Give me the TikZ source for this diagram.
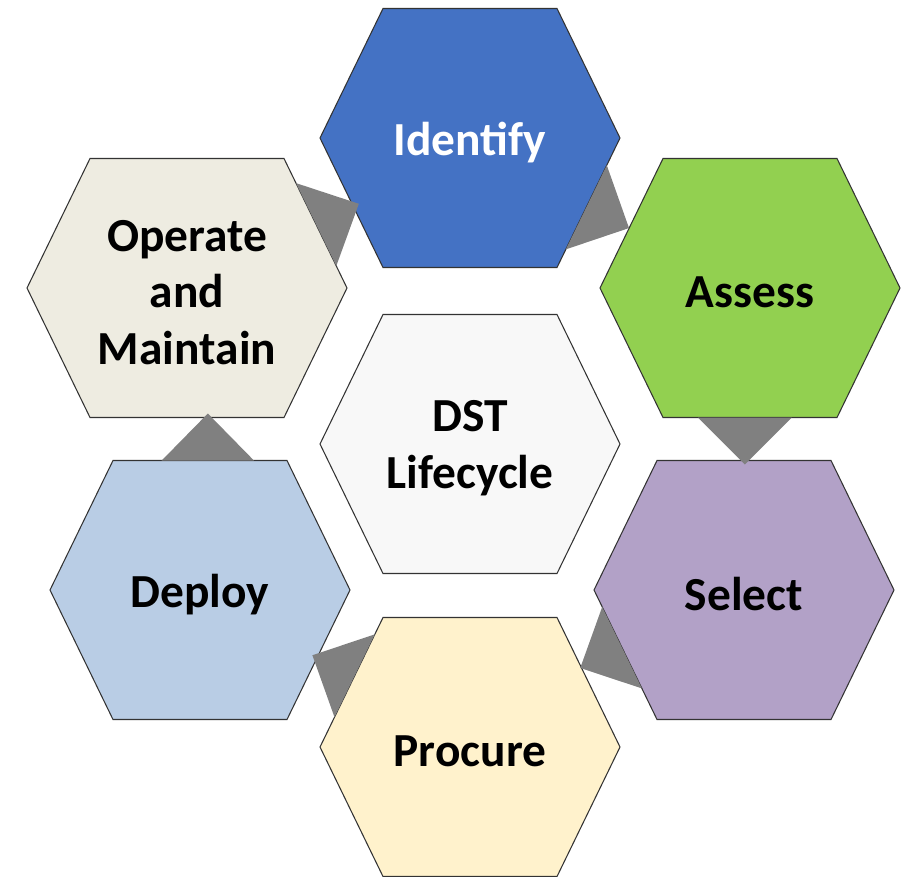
\documentclass[tikz,border=0pt]{standalone}
\usepackage{fontspec}
\setmainfont{Carlito}
\usetikzlibrary{calc}

\definecolor{identblue}{HTML}{4472C4}
\definecolor{assessgreen}{HTML}{92D050}
\definecolor{selectlilac}{HTML}{B2A1C7}
\definecolor{procurecream}{HTML}{FFF2CC}
\definecolor{deployblue}{HTML}{B9CDE5}
\definecolor{operatebeige}{HTML}{EEECE1}
\definecolor{dstgrey}{HTML}{F8F8F8}
\definecolor{trigrey}{HTML}{808080}

\tikzset{
  hexline/.style={draw=black!80, line width=0.6pt},
  celltext/.style={font=\fontsize{27}{32.3}\selectfont\bfseries, align=center, yshift=-2.5pt},
  flowtri/.style={fill=trigrey, draw=none}
}

% hexagon cell: name, centre, half width, fill, text
\newcommand{\hexcell}[5]{%
  \path (#2) coordinate (#1-c)
    ++(#3,0) coordinate (#1-e)
    ++(-63,129.5) coordinate (#1-se)
    ++({-2*#3+126},0) coordinate (#1-sw)
    ++(-63,-129.5) coordinate (#1-w)
    ++(63,-129.5) coordinate (#1-nw)
    ++({2*#3-126},0) coordinate (#1-ne);
  \filldraw[hexline, fill=#4] (#1-e) -- (#1-se) -- (#1-sw) -- (#1-w)
    -- (#1-nw) -- (#1-ne) -- cycle;
  \node[celltext] (#1) at (#1-c) {#5};
}

% flow triangle on the edge #1--#2 of a cell, base from #3 to #4, height #5
\newcommand{\flowstep}[5]{%
  \path ($(#1)!#3!(#2)$) coordinate (tri-a)
        ($(#1)!#4!(#2)$) coordinate (tri-b);
  \fill[flowtri] (tri-a) -- (tri-b) -- ($(tri-a)!0.5!(tri-b)!#5!90:(tri-b)$) -- cycle;
}

\begin{document}
\begin{tikzpicture}[x=0.02cm, y=-0.02cm]
  \useasboundingbox (0,0) rectangle (901,876);

  \hexcell{identify}{470,138}{150}{identblue}{\textcolor{white}{Identify}}
  \hexcell{assess}{750,288}{150}{assessgreen}{Assess}
  \hexcell{select}{744,590}{150}{selectlilac}{Select}
  \hexcell{procure}{470,747}{150}{procurecream}{Procure}
  \hexcell{deploy}{200,590}{150}{deployblue}{Deploy}
  \hexcell{operate}{187,288}{160}{operatebeige}{Operate\\and\\Maintain}
  \hexcell{dst}{470,444}{150}{dstgrey}{DST\\Lifecycle}

  % arrows of the cycle
  \flowstep{operate-ne}{operate-e}{0.19}{0.83}{0.95cm}
  \flowstep{identify-e}{identify-se}{0.21}{0.86}{0.95cm}
  \flowstep{assess-se}{assess-sw}{0.26}{0.80}{0.94cm}
  \flowstep{select-sw}{select-w}{0.24}{0.87}{0.93cm}
  \flowstep{procure-w}{procure-nw}{0.23}{0.87}{0.94cm}
  \flowstep{deploy-nw}{deploy-ne}{0.28}{0.81}{0.94cm}
\end{tikzpicture}
\end{document}
